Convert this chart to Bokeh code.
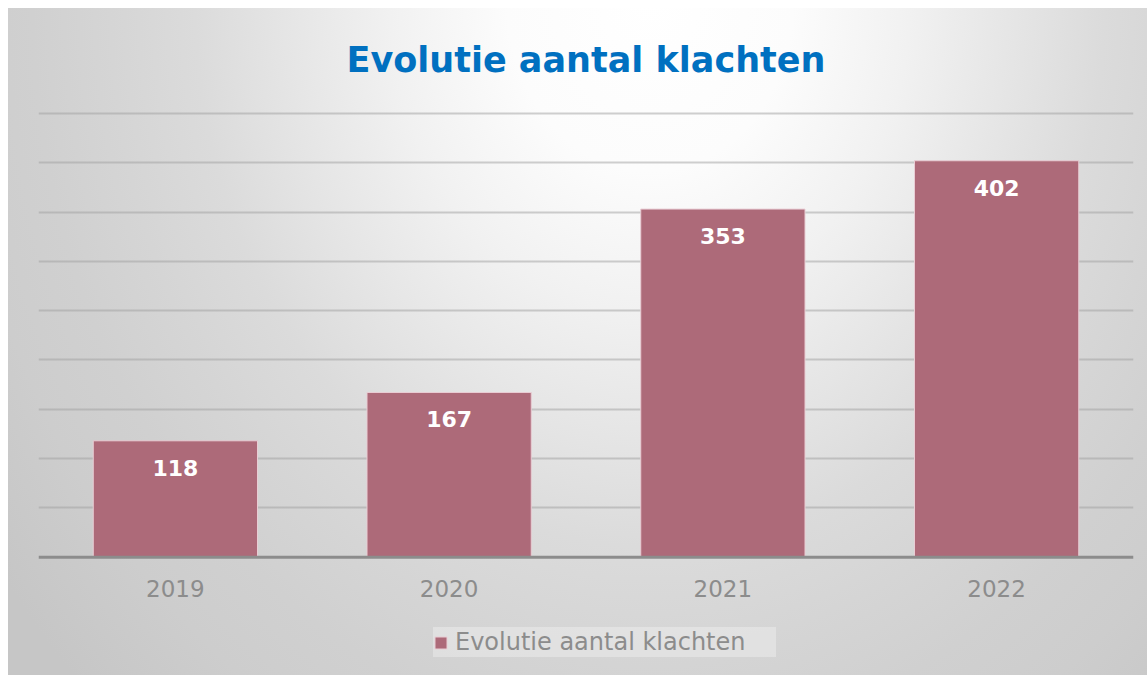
from bokeh.plotting import figure
from bokeh.models import ColumnDataSource, LabelSet, Legend, LegendItem, FactorRange, Span
from bokeh.core.properties import value
from bokeh.embed import file_html
from bokeh.resources import INLINE

years = ["2019", "2020", "2021", "2022"]
klachten = [118, 167, 353, 402]
series_name = "Evolutie aantal klachten"
title_text = "Evolutie aantal klachten"
grid_ticks = [50, 100, 150, 200, 250, 300, 350, 400, 450]

src = ColumnDataSource(dict(x=years, y=klachten, lbl=[str(v) for v in klachten]))
axis_src = ColumnDataSource(dict(x=years, y=[0] * len(years), lbl=years))

p = figure(x_range=FactorRange(*years), y_range=(-120, 455), width=1139, height=673,
           output_backend="svg", toolbar_location=None,
           min_border_left=30, min_border_right=14, min_border_top=106, min_border_bottom=0)

p.styles = {"margin-left": "8px", "margin-top": "2px",
            "background": "linear-gradient(to bottom, #FFFFFF 6px, rgba(255,255,255,0) 6px), "
                          "radial-gradient(ellipse 650px 780px at 642px -2px, "
                          "#FFFFFF 0%, #FCFCFC 22%, #F1F1F1 40%, #DBDBDB 70%, #D5D5D5 83%, "
                          "#D0D0D0 95%, #CDCDCD 107%, #C6C6C6 124%)"}
p.background_fill_alpha = 0
p.border_fill_alpha = 0
p.outline_line_color = None

p.title.text = title_text
p.title.align = "center"
p.title.text_font = "DejaVu Sans"
p.title.text_font_style = "bold"
p.title.text_font_size = "35px"
p.title.text_color = "#0070C0"
p.title.standoff = 57

p.xaxis.visible = False
p.yaxis.visible = False
p.xgrid.visible = False
p.ygrid.ticker = grid_ticks
p.ygrid.grid_line_color = "#A0A0A0"
p.ygrid.grid_line_alpha = 0.5
p.ygrid.grid_line_width = 2

r = p.vbar(x="x", top="y", width=0.6, source=src, fill_color="#AD6A79", fill_alpha=1,
           line_color="#E9CDD4", line_width=1)

p.add_layout(Span(location=0, dimension="width", line_color="#8C8C8C", line_width=3))

labels = LabelSet(x="x", y="y", text="lbl", source=src, text_align="center",
                  text_baseline="middle", y_offset=-27, text_color="white",
                  text_font=value("DejaVu Sans"), text_font_style="bold", text_font_size="22px")
p.add_layout(labels)

ticklabels = LabelSet(x="x", y="y", text="lbl", source=axis_src, text_align="center",
                      text_baseline="middle", y_offset=-31, text_color="#8C8C8C",
                      text_font=value("DejaVu Sans"), text_font_size="23px")
p.add_layout(ticklabels)

legend = Legend(items=[LegendItem(label=series_name, renderers=[r])], location=(395, 18),
                orientation="horizontal", glyph_width=15, glyph_height=15,
                label_standoff=7, padding=8, margin=0, label_width=321, label_height=30,
                label_text_font="DejaVu Sans", label_text_font_size="24px",
                label_text_color="#8C8C8C", background_fill_color="#FFFFFF",
                background_fill_alpha=0.3, border_line_color=None)
p.add_layout(legend)

open("out.html", "w").write(file_html(p, INLINE))
